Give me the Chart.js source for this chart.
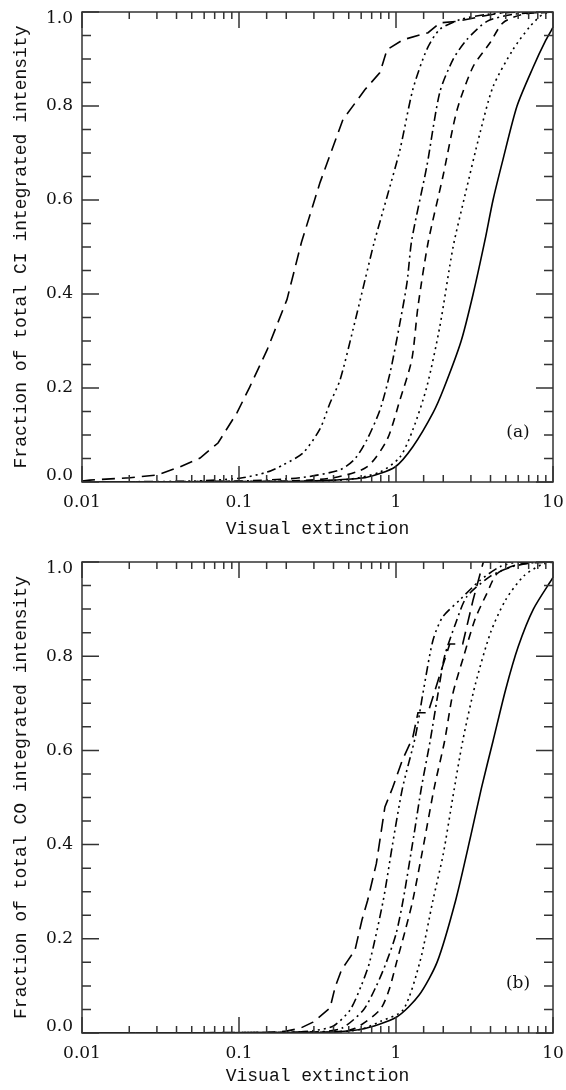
<!DOCTYPE html>
<html lang="en">
<head>
  <meta charset="UTF-8">
  <title>Fraction of integrated intensity vs visual extinction</title>
  <style>
    body {
      margin: 0;
      background: #fff;
    }
    canvas {
      display: block;
    }
  </style>
</head>
<body>
  <canvas id="panelA" width="566" height="545"></canvas>
  <canvas id="panelB" width="566" height="545"></canvas>

  <script src="https://cdn.jsdelivr.net/npm/chart.js"></script>
  <script>
    // tick labels
    const xTickLabels = ['0.01', '0.1', '1', '10'];
    const yTickLabels = ['0.0', '0.2', '0.4', '0.6', '0.8', '1.0'];

    // (a) CI curves, [Av, fraction]
    const ciLongDash = [[0.01, 0.002], [0.0112, 0.004], [0.0202, 0.009], [0.0301, 0.015], [0.042, 0.032], [0.0565, 0.051],
      [0.0735, 0.083], [0.097, 0.147], [0.117, 0.202], [0.151, 0.281], [0.202, 0.388], [0.25, 0.51], [0.328, 0.637],
      [0.459, 0.771], [0.635, 0.835], [0.79, 0.871], [0.877, 0.92], [1.11, 0.941], [1.6, 0.956], [1.905, 0.977],
      [2.45, 0.98], [3.43, 0.99], [5, 1.0], [10, 1.0]];
    const ciDash3Dot = [[0.01, 0], [0.05, 0.002], [0.101, 0.008], [0.151, 0.021], [0.19, 0.036], [0.256, 0.062],
      [0.328, 0.113], [0.38, 0.168], [0.44, 0.217], [0.532, 0.324], [0.635, 0.43], [0.725, 0.509], [0.877, 0.607],
      [1.06, 0.707], [1.28, 0.835], [1.57, 0.92], [1.9, 0.963], [2.57, 0.984], [3.8, 0.995], [6, 1.0], [10, 1.0]];
    const ciDashDot = [[0.01, 0], [0.1, 0.002], [0.245, 0.009], [0.44, 0.026], [0.55, 0.05], [0.653, 0.09], [0.79, 0.153],
      [0.916, 0.232], [1.06, 0.339], [1.175, 0.424], [1.26, 0.515], [1.57, 0.671], [1.9, 0.829], [2.31, 0.899],
      [2.82, 0.941], [3.8, 0.98], [5.56, 0.995], [10, 1.0]];
    const ciShortDash = [[0.01, 0], [0.2, 0.002], [0.4, 0.009], [0.653, 0.032], [0.877, 0.09], [1.06, 0.175],
      [1.26, 0.26], [1.38, 0.373], [1.6, 0.509], [1.99, 0.65], [2.45, 0.792], [3.1, 0.884], [3.98, 0.935],
      [4.8, 0.977], [6.4, 0.995], [10, 1.0]];
    const ciDotted = [[0.01, 0], [0.3, 0.002], [0.51, 0.006], [0.79, 0.021], [1.06, 0.053], [1.28, 0.111], [1.57, 0.202],
      [1.9, 0.33], [2.31, 0.5], [2.75, 0.61], [3.43, 0.743], [4.15, 0.841], [5.56, 0.92], [7.13, 0.969], [8.6, 0.995],
      [10, 1.0]];
    const ciSolid = [[0.01, 0], [0.2, 0.001], [0.4, 0.004], [0.653, 0.01], [0.986, 0.032], [1.28, 0.075], [1.72, 0.147],
      [2.02, 0.2], [2.6, 0.3], [3.1, 0.4], [3.69, 0.515], [4.15, 0.6], [4.8, 0.686], [5.9, 0.8], [7.46, 0.882],
      [9.0, 0.94], [10, 0.967]];

    // (b) CO curves
    const coLongDash = [[0.01, 0], [0.15, 0.001], [0.2, 0.004], [0.245, 0.01], [0.296, 0.023], [0.38, 0.053],
      [0.41, 0.098], [0.45, 0.134], [0.487, 0.151], [0.548, 0.176], [0.607, 0.24], [0.66, 0.282], [0.75, 0.36],
      [0.85, 0.48], [0.95, 0.52], [1.1, 0.58], [1.28, 0.628], [1.38, 0.68], [1.6, 0.68], [1.9, 0.76], [2.2, 0.826],
      [2.66, 0.826], [3.1, 0.92], [3.6, 1.0], [10, 1.0]];
    const coDash3Dot = [[0.01, 0], [0.2, 0.001], [0.3, 0.005], [0.4, 0.015], [0.51, 0.049], [0.6, 0.1], [0.68, 0.151],
      [0.83, 0.282], [0.95, 0.4], [1.1, 0.52], [1.33, 0.63], [1.5, 0.73], [1.72, 0.834], [1.98, 0.883], [2.56, 0.92],
      [3.4, 0.96], [4.6, 0.99], [6, 1.0], [10, 1.0]];
    const coDashDot = [[0.01, 0], [0.3, 0.002], [0.45, 0.01], [0.62, 0.049], [0.75, 0.1], [0.87, 0.151], [1.0, 0.21],
      [1.11, 0.282], [1.3, 0.42], [1.45, 0.52], [1.65, 0.62], [1.85, 0.72], [2.04, 0.8], [2.4, 0.87], [2.82, 0.926],
      [4.0, 0.97], [5.5, 0.99], [8, 1.0], [10, 1.0]];
    const coShortDash = [[0.01, 0], [0.4, 0.002], [0.55, 0.01], [0.79, 0.049], [0.9, 0.09], [1.01, 0.151],
      [1.15, 0.22], [1.28, 0.282], [1.5, 0.4], [1.75, 0.52], [2.04, 0.62], [2.3, 0.72], [2.7, 0.8], [3.2, 0.88],
      [3.8, 0.934], [4.4, 0.975], [6, 0.995], [10, 1.0]];
    const coDotted = [[0.01, 0], [0.4, 0.002], [0.6, 0.008], [0.8, 0.025], [1.11, 0.049], [1.42, 0.151], [1.72, 0.282],
      [2.0, 0.38], [2.3, 0.5], [2.66, 0.62], [3.2, 0.74], [4.0, 0.85], [5.0, 0.92], [6.5, 0.97], [8.5, 0.995],
      [10, 1.0]];
    const coSolid = [[0.01, 0], [0.3, 0.001], [0.6, 0.008], [1.01, 0.034], [1.4, 0.08], [1.83, 0.151], [2.4, 0.282],
      [3.0, 0.42], [3.5, 0.52], [4.15, 0.62], [5.0, 0.73], [6.0, 0.82], [7.5, 0.9], [10, 0.967]];

    // line styles, same order in both panels
    const dashStyles = [
      [13, 7],                          // long dash
      [9, 4, 2, 4, 2, 4, 2, 4],         // dash dot dot dot
      [9, 4, 2, 4],                     // dash dot
      [8, 6],                           // short dash
      [2, 4],                           // dotted
      []                                // solid
    ];

    const SERIF = "'DejaVu Serif', serif";
    const MONO = "'Liberation Mono', monospace";
    Chart.defaults.font.family = SERIF;
    Chart.defaults.font.size = 17;
    Chart.defaults.color = '#111';

    function isDecade(v) {
      const l = Math.log10(v);
      return Math.abs(l - Math.round(l)) < 1e-6;
    }
    function isMajorY(v) {
      return Math.abs(v * 5 - Math.round(v * 5)) < 1e-6;
    }

    // frame with inward ticks on all four sides, plus panel label
    const frameTicks = {
      id: 'frameTicks',
      afterDatasetsDraw(chart, args, opts) {
        const { ctx, chartArea: a, scales: { x, y } } = chart;
        ctx.save();
        ctx.strokeStyle = '#333';
        ctx.lineWidth = 1.5;
        ctx.strokeRect(a.left, a.top, a.right - a.left, a.bottom - a.top);
        ctx.beginPath();
        y.ticks.forEach(t => {
          const py = y.getPixelForValue(t.value);
          const len = isMajorY(t.value) ? 17 : 9;
          ctx.moveTo(a.left, py); ctx.lineTo(a.left + len, py);
          ctx.moveTo(a.right, py); ctx.lineTo(a.right - len, py);
        });
        x.ticks.forEach(t => {
          const px = x.getPixelForValue(t.value);
          const len = isDecade(t.value) ? 16 : 7;
          ctx.moveTo(px, a.bottom); ctx.lineTo(px, a.bottom - len);
          ctx.moveTo(px, a.top); ctx.lineTo(px, a.top + len);
        });
        ctx.stroke();
        ctx.fillStyle = '#111';
        ctx.font = '17px ' + SERIF;
        ctx.textAlign = 'center';
        ctx.textBaseline = 'middle';
        ctx.fillText(opts.label, a.right - 35, y.getPixelForValue(0.105));
        ctx.restore();
      }
    };

    // end labels sit just inside the frame, as in the original
    function yLabel(v) {
      if (!isMajorY(v)) return '';
      const i = Math.round(v * 5);
      if (i === 5) return ['', yTickLabels[i]];
      if (i === 0) return [yTickLabels[i], ''];
      return yTickLabels[i];
    }

    function makePanel(id, curves, yTitle, label, padTop, xHeight, titleBottom) {
      const datasets = curves.map((pts, i) => ({
        data: pts.map(p => ({ x: p[0], y: p[1] })),
        borderColor: '#000',
        borderWidth: 1.6,
        borderDash: dashStyles[i],
        pointRadius: 0,
        tension: i === 0 ? 0 : 0.25,
        fill: false
      }));
      return new Chart(document.getElementById(id), {
        type: 'line',
        data: { datasets },
        plugins: [frameTicks],
        options: {
          responsive: false,
          animation: false,
          devicePixelRatio: 1,
          layout: { padding: { top: padTop, right: 13, left: 0, bottom: 0 }, autoPadding: false },
          plugins: {
            legend: { display: false },
            tooltip: { enabled: false },
            frameTicks: { label: label }
          },
          scales: {
            x: {
              type: 'logarithmic',
              min: 0.01,
              max: 10,
              grid: { display: false, drawTicks: false },
              border: { display: false },
              ticks: {
                autoSkip: false,
                maxRotation: 0,
                padding: 10,
                callback: (v) => isDecade(v) ? xTickLabels[Math.round(Math.log10(v)) + 2] : ''
              },
              title: {
                display: true,
                text: 'Visual extinction',
                font: { family: MONO, size: 18 },
                padding: { top: 0, bottom: titleBottom }
              },
              afterFit: (s) => { s.height = xHeight; s.paddingLeft = 0; s.paddingRight = 0; }
            },
            y: {
              min: 0,
              max: 1,
              grid: { display: false, drawTicks: false },
              border: { display: false },
              ticks: {
                stepSize: 0.05,
                autoSkip: false,
                padding: 9,
                font: { lineHeight: 0.8 },
                callback: yLabel
              },
              title: {
                display: true,
                text: yTitle,
                font: { family: MONO, size: 18 },
                padding: { top: 10, bottom: 0 }
              },
              afterFit: (s) => { s.width = 82; s.paddingTop = 0; s.paddingBottom = 0; }
            }
          }
        }
      });
    }

    makePanel('panelA', [ciLongDash, ciDash3Dot, ciDashDot, ciShortDash, ciDotted, ciSolid],
      'Fraction of total CI integrated intensity', '(a)', 12, 63, 5);
    makePanel('panelB', [coLongDash, coDash3Dot, coDashDot, coShortDash, coDotted, coSolid],
      'Fraction of total CO integrated intensity', '(b)', 17, 57, 3);
  </script>
</body>
</html>
